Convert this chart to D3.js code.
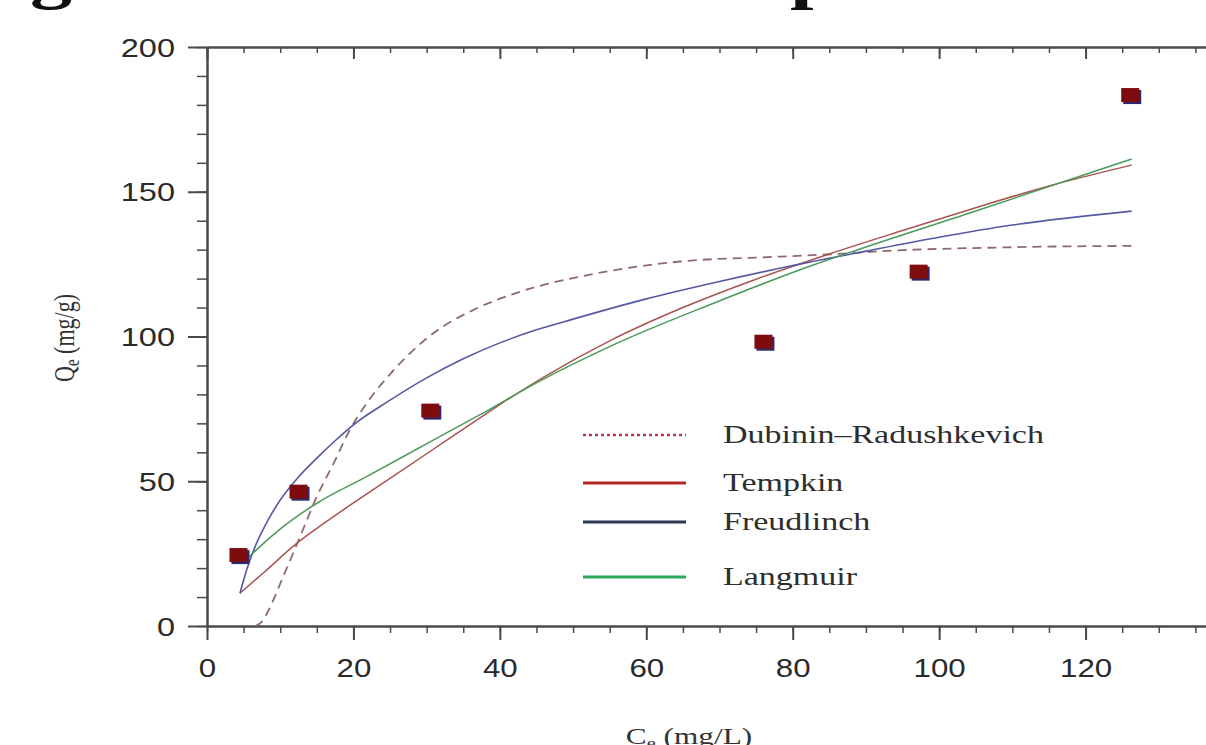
<!DOCTYPE html>
<html>
<head>
    <meta charset="utf-8" />
    <title>Isotherm fits</title>
    <style>
        body { margin: 0; background: #fff; }
        svg { display: block; background: #fff; }
    </style>
</head>
<body>
    <script src="https://cdn.jsdelivr.net/npm/d3@7/dist/d3.min.js"></script>

    <script>

        // experimental points
        let ceData = [4.3, 12.5, 30.5, 76, 97.2, 126.1]
        let qeData = [24.5, 46.4, 74.4, 98.2, 122.4, 183.4]

        // fitted curves
        let drCe = [6.6, 7.5, 8.2, 10.4, 12.7, 15, 17.3, 19.5, 21.8, 25.5, 30.9, 36.4, 42.8, 51, 64.6, 78.3, 87.4, 91, 109.2, 126.3]
        let drQe = [0, 1.5, 4.4, 17, 30.8, 44.7, 56.2, 67.7, 76.9, 88.4, 101.1, 109.2, 115.5, 120.7, 125.9, 127.6, 128.7, 129.3, 130.8, 131.3]

        let tempkinCe = [4.5, 8, 12, 16, 20, 25, 30, 35, 40, 46, 55, 65, 75, 85, 95, 105, 115, 126.3]
        let tempkinQe = [11.3, 19, 28, 35.5, 42.5, 51, 59.5, 68, 76.5, 86, 98.5, 110, 119.8, 128.5, 136.6, 144.5, 152, 159.2]

        let freundCe = [4.5, 5.5, 6.5, 8, 10, 12.5, 15, 17.5, 20, 25, 30, 35, 40, 45, 50, 60, 70, 80, 90, 100, 110, 126.3]
        let freundQe = [11.3, 20, 27, 35, 43.5, 51.5, 58, 64, 69.5, 78, 85.7, 92.3, 97.8, 102.3, 106, 113, 119, 124.5, 129.5, 134.3, 138.5, 143.3]

        let langCe = [5, 6, 10.4, 15, 21.8, 30.9, 37.3, 45, 55.5, 69.2, 82.8, 88.8, 104.7, 126.3]
        let langQe = [22, 24.5, 34.3, 42.4, 51.6, 64.2, 73, 84, 97.1, 111.5, 124.7, 129.9, 143.1, 161.3]

        let xTicks = [0, 20, 40, 60, 80, 100, 120, 140]
        let yTicks = [0, 50, 100, 150, 200]
        let legendLabels = ['Dubinin\u2013Radushkevich', 'Tempkin', 'Freudlinch', 'Langmuir']

        let width = 1206,
            height = 745,
            stretch = 1.36,   // the source picture is stretched sideways
            axisColor = '#4a4a4a'

        let svg = d3.select('body')
                    .append('svg')
                    .attr('width', width)
                    .attr('height', height)

        let x = d3.scaleLinear().domain([0, 140]).range([207, 1232])
        let y = d3.scaleLinear().domain([0, 200]).range([626, 47])

        function styleAxis(g, w) {
            g.select('.domain').attr('stroke', axisColor).attr('stroke-width', 2)
            g.selectAll('.tick line').attr('stroke', axisColor).attr('stroke-width', w)
        }

        // title fragments cut by the top edge
        svg.append('g')
            .attr('font-family', 'Liberation Serif, Times New Roman, serif')
            .attr('font-weight', 'bold')
            .attr('font-size', 62)
            .attr('fill', '#111')
            .selectAll('text')
            .data([{ t: 'g', at: 30 }, { t: 'p', at: 790 }])
            .enter()
                .append('text')
                .attr('transform', function (d) { return `translate(${d.at}, -3) scale(${stretch}, 1)` })
                .text(function (d) { return d.t })

        // bottom axis
        let xMinor = svg.append('g')
                        .attr('transform', `translate(0, ${y(0)})`)
                        .call(d3.axisBottom(x).tickValues(d3.range(0, 141, 5)).tickSize(7).tickSizeOuter(0).tickFormat(''))
        styleAxis(xMinor, 1.5)

        let xMajor = svg.append('g')
                        .attr('transform', `translate(0, ${y(0)})`)
                        .call(d3.axisBottom(x).tickValues(xTicks).tickSize(14).tickSizeOuter(0))
        styleAxis(xMajor, 2)
        xMajor.selectAll('text')
                .attr('y', 0)
                .attr('dy', 0)
                .attr('transform', `translate(0, 51) scale(1.25, 1)`)
                .attr('font-size', 25)
                .attr('font-family', 'Liberation Sans, Arial, sans-serif')
                .attr('fill', '#2a2a2a')

        // top axis, ticks pointing in
        let topMinor = svg.append('g')
                        .attr('transform', `translate(0, ${y(200)})`)
                        .call(d3.axisBottom(x).tickValues(d3.range(0, 141, 5)).tickSize(6).tickSizeOuter(0).tickFormat(''))
        styleAxis(topMinor, 1.5)
        let topMajor = svg.append('g')
                        .attr('transform', `translate(0, ${y(200)})`)
                        .call(d3.axisBottom(x).tickValues(xTicks).tickSize(12).tickSizeOuter(0).tickFormat(''))
        styleAxis(topMajor, 2)

        // left axis
        let yMinor = svg.append('g')
                        .attr('transform', `translate(${x(0)}, 0)`)
                        .call(d3.axisLeft(y).tickValues(d3.range(0, 201, 10)).tickSize(10).tickSizeOuter(0).tickFormat(''))
        styleAxis(yMinor, 1.5)

        let yMajor = svg.append('g')
                        .attr('transform', `translate(${x(0)}, 0)`)
                        .call(d3.axisLeft(y).tickValues(yTicks).tickSize(19).tickSizeOuter(0))
        styleAxis(yMajor, 2)
        yMajor.selectAll('text')
                .attr('x', 0)
                .attr('dy', 0)
                .attr('transform', `translate(-32, 9) scale(1.3, 1)`)
                .attr('font-size', 25)
                .attr('font-family', 'Liberation Sans, Arial, sans-serif')
                .attr('fill', '#2a2a2a')

        // axis titles
        let yTitle = svg.append('text')
                        .attr('transform', `translate(74, 338) scale(${stretch}, 1) rotate(-90)`)
                        .attr('text-anchor', 'middle')
                        .attr('font-family', 'Liberation Serif, Times New Roman, serif')
                        .attr('font-size', 22)
                        .attr('fill', '#333')
        yTitle.append('tspan').text('Q')
        yTitle.append('tspan').attr('font-size', 15).attr('dy', 4).text('e')
        yTitle.append('tspan').attr('dy', -4).text(' (mg/g)')

        let xTitle = svg.append('text')
                        .attr('transform', `translate(689, 744) scale(${stretch}, 1)`)
                        .attr('text-anchor', 'middle')
                        .attr('font-family', 'Liberation Serif, Times New Roman, serif')
                        .attr('font-size', 23)
                        .attr('fill', '#333')
        xTitle.append('tspan').text('C')
        xTitle.append('tspan').attr('font-size', 15).attr('dy', 4).text('e')
        xTitle.append('tspan').attr('dy', -4).text(' (mg/L)')

        // fitted curves
        let curves = [
            { ce: drCe, qe: drQe, color: '#8e6a6c', dash: '9,6', w: 1.8 },
            { ce: tempkinCe, qe: tempkinQe, color: '#a85450', dash: null, w: 1.5 },
            { ce: freundCe, qe: freundQe, color: '#5558a2', dash: null, w: 1.6 },
            { ce: langCe, qe: langQe, color: '#4a9a5c', dash: null, w: 1.5 }
        ]

        let line = d3.line()
                    .x(function (d) { return x(d[0]) })
                    .y(function (d) { return y(d[1]) })
                    .curve(d3.curveMonotoneX)

        svg.append('g')
            .selectAll('path')
            .data(curves)
            .enter()
                .append('path')
                .attr('fill', 'none')
                .attr('stroke', function (d) { return d.color })
                .attr('stroke-width', function (d) { return d.w })
                .attr('stroke-dasharray', function (d) { return d.dash })
                .attr('d', function (d) { return line(d3.zip(d.ce, d.qe)) })

        // measured points
        let points = d3.zip(ceData, qeData)
        let marks = svg.append('g')
        marks.selectAll('rect.shadow')
            .data(points)
            .enter()
                .append('rect')
                .classed('shadow', true)
                .attr('x', function (d) { return x(d[0]) - 7 })
                .attr('y', function (d) { return y(d[1]) - 5 })
                .attr('width', 18)
                .attr('height', 14)
                .attr('fill', '#2b2a6e')
        marks.selectAll('rect.dot')
            .data(points)
            .enter()
                .append('rect')
                .classed('dot', true)
                .attr('x', function (d) { return x(d[0]) - 9 })
                .attr('y', function (d) { return y(d[1]) - 7 })
                .attr('width', 18)
                .attr('height', 14)
                .attr('fill', '#7e0b0e')

        // legend
        let legendRows = [
            { y: 435, color: '#c8344c', dash: '3,3', w: 2.5 },
            { y: 483, color: '#b52629', dash: null, w: 3 },
            { y: 522, color: '#2c3656', dash: null, w: 3 },
            { y: 577, color: '#2fa85a', dash: null, w: 3 }
        ]

        let legend = svg.append('g')
        let rows = legend.selectAll('g')
                        .data(legendRows)
                        .enter()
                            .append('g')
                            .attr('transform', function (d) { return `translate(0, ${d.y})` })
        rows.append('line')
            .attr('x1', 583)
            .attr('x2', 686)
            .attr('stroke', function (d) { return d.color })
            .attr('stroke-width', function (d) { return d.w })
            .attr('stroke-dasharray', function (d) { return d.dash })
        rows.append('text')
            .attr('transform', `translate(723, 8) scale(${stretch}, 1)`)
            .attr('font-family', 'Liberation Serif, Times New Roman, serif')
            .attr('font-size', 25)
            .attr('fill', '#2e2e2e')
            .text(function (d, i) { return legendLabels[i] })

    </script>
</body>
</html>
